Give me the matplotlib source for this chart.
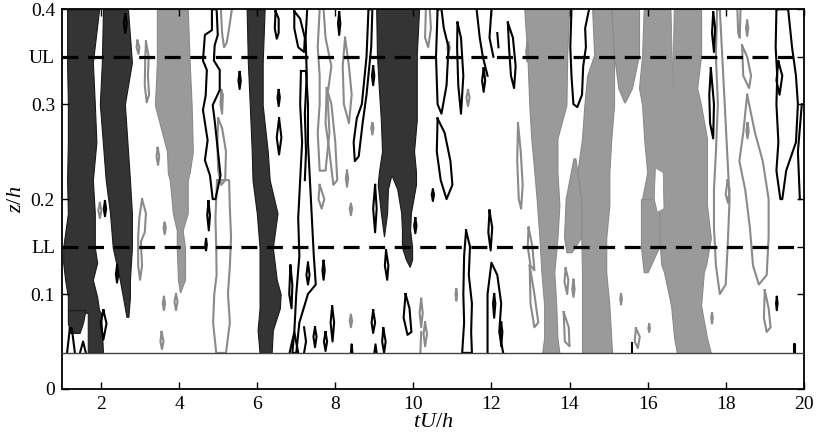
import numpy as np
import matplotlib
matplotlib.use("Agg")
import matplotlib.pyplot as plt
from matplotlib.patches import Rectangle

plt.rcParams['font.family'] = ['Liberation Serif', 'DejaVu Serif']
plt.rcParams['mathtext.fontset'] = 'custom'
plt.rcParams['mathtext.rm'] = 'Liberation Serif'
plt.rcParams['mathtext.it'] = 'Liberation Serif:italic'

# ---- levels / ticks ----
ground = 0.038
z_UL = 0.35
z_LL = 0.15
ytick_vals = [0, 0.1, 0.15, 0.2, 0.3, 0.35, 0.4]
ytick_labels = ['0', '0.1', 'LL', '0.2', '0.3', 'UL', '0.4']
xtick_vals = [2, 4, 6, 8, 10, 12, 14, 16, 18, 20]

# ---- dark (strong negative) regions: z levels, left / right edges in tU/h ----
dark1_z = [0.038, 0.08, 0.083, 0.097, 0.115, 0.133, 0.149, 0.185, 0.22, 0.26, 0.3, 0.344, 0.4]
dark1_left = [1.66, 1.66, 1.15, 1.15, 1.08, 1.03, 1.03, 1.15, 1.13, 1.15, 1.15, 1.13, 1.13]
dark1_right = [2.05, 2.0, 1.95, 1.9, 1.79, 1.9, 1.84, 1.84, 1.79, 1.88, 1.84, 1.79, 1.95]
dark1b_z = [0.059, 0.07, 0.083]
dark1b_left = [1.2, 1.15, 1.15]
dark1b_right = [1.45, 1.54, 1.6]
dark2_z = [0.076, 0.097, 0.115, 0.149, 0.185, 0.22, 0.3, 0.344, 0.4]
dark2_left = [2.65, 2.56, 2.48, 2.3, 2.23, 2.12, 1.97, 2.02, 2.05]
dark2_right = [2.7, 2.74, 2.74, 2.79, 2.79, 2.74, 2.61, 2.79, 2.69]
dark3_z = [0.038, 0.062, 0.085, 0.1, 0.115, 0.149, 0.185, 0.22, 0.25, 0.299, 0.344, 0.4]
dark3_left = [6.06, 6.01, 6.06, 6.06, 6.06, 6.06, 5.99, 5.88, 5.86, 5.81, 5.76, 5.73]
dark3_right = [6.37, 6.4, 6.58, 6.6, 6.5, 6.4, 6.52, 6.32, 6.27, 6.14, 6.14, 6.19]
# structure near tU/h = 9.5, traced as one outline (splits into two tongues)
dark4_x = [9.06, 9.08, 9.13, 9.18, 9.21, 9.13, 9.1, 9.18, 9.26, 9.34, 9.36, 9.45, 9.6, 9.7,
           9.72, 9.72, 9.82, 9.92, 9.98, 9.98, 9.93, 9.95, 10.08, 10.08, 10.03, 10.1, 10.1,
           10.1, 10.16]
dark4_zs = [0.4, 0.352, 0.315, 0.283, 0.25, 0.228, 0.215, 0.185, 0.16, 0.185, 0.21, 0.225,
            0.21, 0.185, 0.167, 0.149, 0.136, 0.128, 0.136, 0.149, 0.167, 0.185, 0.215, 0.228,
            0.25, 0.283, 0.315, 0.352, 0.4]

# ---- light (strong positive) regions ----
light1_z = [0.102, 0.115, 0.149, 0.167, 0.185, 0.22, 0.228, 0.25, 0.299, 0.344, 0.4]
light1_left = [4.02, 3.97, 3.94, 3.94, 3.84, 3.76, 3.71, 3.69, 3.38, 3.43, 3.43]
light1_right = [4.03, 4.15, 4.15, 4.09, 4.22, 4.22, 4.27, 4.35, 4.32, 4.27, 4.22]
lightA_z = [0.038, 0.054, 0.088, 0.123, 0.159, 0.194, 0.228, 0.264, 0.299, 0.352, 0.4]
lightA_left = [13.30, 13.35, 13.35, 13.28, 13.23, 13.17, 13.10, 13.02, 12.97, 12.92, 12.84]
lightA_right = [13.74, 13.69, 13.66, 13.61, 13.69, 13.74, 13.69, 13.69, 13.92, 13.94, 13.99]
lightB_z = [0.038, 0.088, 0.123, 0.159, 0.194, 0.228, 0.264, 0.299, 0.33, 0.352, 0.4]
lightB_left = [14.32, 14.32, 14.32, 14.3, 14.3, 14.2, 14.32, 14.38, 14.45, 14.63, 14.58]
lightB_right = [15.09, 15.02, 14.94, 14.94, 15.02, 15.02, 15.07, 15.14, 15.14, 15.14, 15.07]
lightB2_z = [0.144, 0.16, 0.2, 0.243]
lightB2_left = [13.92, 13.86, 13.9, 14.1]
lightB2_right = [14.05, 14.3, 14.3, 14.15]
lightC_z = [0.302, 0.317, 0.352, 0.4]
lightC_left = [15.4, 15.25, 15.14, 15.07]
lightC_right = [15.42, 15.6, 15.78, 15.78]
lightD_z = [0.038, 0.054, 0.088, 0.123, 0.131, 0.159, 0.194, 0.228, 0.264, 0.299, 0.317, 0.352, 0.4]
lightD_left = [16.75, 16.68, 16.6, 16.42, 16.35, 16.3, 15.83, 15.99, 15.91, 15.86, 15.78, 15.86, 15.9]
lightD_right = [17.62, 17.52, 17.37, 17.44, 17.5, 17.62, 17.52, 17.52, 17.52, 17.37, 17.27, 17.37, 17.37]
lightD2_z = [0.123, 0.15, 0.2]
lightD2_left = [15.9, 15.83, 15.83]
lightD2_right = [16.0, 16.3, 16.3]
# white holes inside the light region
hole1 = [(16.6, 0.4), (16.68, 0.4), (16.65, 0.317)]
hole2 = [(16.2, 0.233), (16.4, 0.228), (16.42, 0.19), (16.25, 0.186), (16.17, 0.2)]

# ---- black contour lines (weak negative), (tU/h, z/h) ----
black_closed = [
    [(2.06, 0.083), (2.14, 0.069), (2.06, 0.052), (1.99, 0.069)],
    [(2.41, 0.13), (2.44, 0.121), (2.41, 0.112), (2.38, 0.121)],
    [(2.1, 0.198), (2.13, 0.19), (2.1, 0.182), (2.07, 0.19)],
    [(2.62, 0.395), (2.66, 0.385), (2.62, 0.375), (2.58, 0.385)],
    [(4.84, 0.40), (4.84, 0.378), (4.66, 0.373), (4.61, 0.346), (4.71, 0.336), (4.68, 0.309),
     (4.61, 0.294), (4.73, 0.262), (4.66, 0.241), (4.79, 0.225), (4.86, 0.2), (4.93, 0.2),
     (5.06, 0.225), (4.99, 0.252), (4.91, 0.283), (4.86, 0.299), (5.04, 0.315), (5.04, 0.336),
     (4.89, 0.346), (4.91, 0.362), (4.99, 0.373), (4.96, 0.40)],
    [(4.75, 0.198), (4.79, 0.183), (4.76, 0.167), (4.72, 0.183)],
    [(4.69, 0.158), (4.71, 0.152), (4.69, 0.146), (4.67, 0.152)],
    [(5.55, 0.334), (5.58, 0.325), (5.55, 0.316), (5.52, 0.325)],
    [(6.47, 0.398), (6.55, 0.39), (6.55, 0.375), (6.5, 0.369), (6.45, 0.38)],
    [(6.55, 0.315), (6.58, 0.307), (6.55, 0.298), (6.52, 0.307)],
    [(6.56, 0.285), (6.62, 0.265), (6.56, 0.247), (6.5, 0.265)],
    [(6.95, 0.398), (7.1, 0.39), (7.22, 0.37), (7.2, 0.355), (7.05, 0.36), (6.95, 0.38)],
    [(7.12, 0.335), (7.1, 0.3), (7.15, 0.26), (7.1, 0.22), (7.05, 0.18), (7.08, 0.14), (7.0, 0.1),
     (6.95, 0.06), (6.9, 0.038), (7.0, 0.038), (7.08, 0.07), (7.3, 0.1), (7.5, 0.11), (7.45, 0.14),
     (7.4, 0.18), (7.35, 0.22), (7.3, 0.26), (7.3, 0.3), (7.25, 0.335)],
    [(6.85, 0.13), (6.9, 0.11), (6.88, 0.085), (6.82, 0.1)],
    [(7.48, 0.065), (7.52, 0.055), (7.48, 0.044), (7.44, 0.055)],
    [(7.75, 0.06), (7.79, 0.05), (7.75, 0.04), (7.71, 0.05)],
    [(7.92, 0.087), (7.97, 0.07), (7.93, 0.05), (7.88, 0.07)],
    [(7.3, 0.133), (7.34, 0.12), (7.3, 0.11), (7.26, 0.12)],
    [(7.7, 0.135), (7.73, 0.125), (7.7, 0.115), (7.67, 0.125)],
    [(8.85, 0.4), (8.8, 0.35), (8.68, 0.3), (8.55, 0.285), (8.47, 0.26), (8.5, 0.24), (8.6, 0.245),
     (8.7, 0.28), (8.8, 0.31), (8.92, 0.36), (8.95, 0.4)],
    [(8.97, 0.34), (9.0, 0.33), (8.97, 0.32), (8.94, 0.33)],
    [(8.1, 0.397), (8.13, 0.385), (8.1, 0.373), (8.07, 0.385)],
    [(9.02, 0.215), (8.97, 0.19), (9.02, 0.165), (9.06, 0.19)],
    [(9.3, 0.146), (9.36, 0.13), (9.33, 0.115), (9.27, 0.13)],
    [(9.8, 0.1), (9.9, 0.085), (9.95, 0.06), (9.85, 0.057), (9.75, 0.075)],
    [(9.23, 0.064), (9.29, 0.05), (9.25, 0.038), (9.2, 0.05)],
    [(8.97, 0.083), (9.02, 0.07), (8.97, 0.059), (8.93, 0.07)],
    [(10.62, 0.4), (10.58, 0.35), (10.62, 0.3), (10.72, 0.29), (10.85, 0.32), (10.9, 0.36),
     (10.78, 0.38), (10.72, 0.4)],
    [(11.13, 0.386), (11.22, 0.37), (11.28, 0.33), (11.22, 0.29), (11.15, 0.32), (11.12, 0.36)],
    [(10.62, 0.285), (10.8, 0.27), (10.95, 0.24), (11.0, 0.215), (10.85, 0.2), (10.7, 0.22), (10.6, 0.25)],
    [(10.5, 0.21), (10.53, 0.205), (10.5, 0.198), (10.47, 0.205)],
    [(10.05, 0.18), (10.08, 0.172), (10.05, 0.164), (10.02, 0.172)],
    [(11.35, 0.167), (11.45, 0.15), (11.42, 0.12), (11.5, 0.09), (11.48, 0.06), (11.5, 0.038),
     (11.25, 0.038), (11.3, 0.07), (11.28, 0.1), (11.3, 0.14)],
    [(12.07, 0.1), (12.1, 0.09), (12.07, 0.075), (12.04, 0.09)],
    [(12.25, 0.07), (12.28, 0.06), (12.25, 0.045), (12.22, 0.06)],
    [(11.95, 0.188), (12.02, 0.17), (11.98, 0.146), (11.92, 0.165)],
    [(11.8, 0.338), (11.84, 0.325), (11.8, 0.313), (11.76, 0.325)],
    [(12.42, 0.386), (12.55, 0.37), (12.62, 0.34), (12.58, 0.317), (12.5, 0.33), (12.45, 0.36)],
    [(17.62, 0.338), (17.7, 0.3), (17.68, 0.264), (17.6, 0.28), (17.58, 0.31)],
    [(17.68, 0.397), (17.73, 0.38), (17.7, 0.355), (17.65, 0.375)],
    [(19.3, 0.40), (19.28, 0.36), (19.32, 0.33), (19.3, 0.30), (19.35, 0.26), (19.3, 0.23), (19.4, 0.2),
     (19.45, 0.2), (19.55, 0.23), (19.8, 0.26), (19.85, 0.30), (19.8, 0.33), (19.7, 0.36), (19.6, 0.40)],
    [(19.35, 0.345), (19.45, 0.33), (19.38, 0.31), (19.3, 0.325)],
    [(19.31, 0.097), (19.33, 0.09), (19.31, 0.083), (19.29, 0.09)],
]
black_open = [
    [(1.13, 0.038), (1.2, 0.064), (1.25, 0.064), (1.33, 0.038)],
    [(1.46, 0.038), (1.54, 0.05), (1.61, 0.038)],
    [(6.83, 0.038), (6.95, 0.06), (7.05, 0.038)],
    [(7.28, 0.40), (7.24, 0.37), (7.27, 0.33), (7.22, 0.29), (7.25, 0.25), (7.22, 0.22)],
    [(7.2, 0.065), (7.25, 0.05), (7.2, 0.038)],
    [(8.4, 0.038), (8.42, 0.047), (8.44, 0.038)],
    [(9.0, 0.038), (9.03, 0.047), (9.06, 0.038)],
    [(11.9, 0.038), (11.9, 0.1), (12.0, 0.133), (12.15, 0.12), (12.25, 0.09), (12.2, 0.06), (12.3, 0.038)],
    [(11.62, 0.4), (11.7, 0.37), (11.78, 0.35), (11.9, 0.33)],
    [(12.0, 0.4), (11.95, 0.37), (12.05, 0.35)],
    [(12.15, 0.375), (12.18, 0.36)],
    [(14.05, 0.40), (14.02, 0.36), (14.05, 0.33), (14.1, 0.30), (14.2, 0.297), (14.32, 0.31),
     (14.35, 0.34), (14.42, 0.36), (14.4, 0.38), (14.5, 0.40)],
    [(19.95, 0.3), (19.85, 0.25), (19.9, 0.2)],
    [(19.74, 0.038), (19.74, 0.047), (19.77, 0.047), (19.77, 0.038)],
    [(15.6, 0.038), (15.6, 0.048)],
]

# ---- grey contour lines (weak positive) ----
grey_closed = [
    [(2.93, 0.367), (2.98, 0.36), (2.96, 0.353), (2.91, 0.36)],
    [(3.15, 0.366), (3.22, 0.35), (3.2, 0.33), (3.23, 0.31), (3.17, 0.302), (3.12, 0.32), (3.13, 0.345)],
    [(3.05, 0.2), (3.15, 0.185), (3.12, 0.165), (3.02, 0.155), (3.05, 0.13), (3.0, 0.115),
     (2.95, 0.13), (2.95, 0.16), (2.98, 0.18)],
    [(3.45, 0.254), (3.49, 0.245), (3.46, 0.236), (3.42, 0.245)],
    [(3.63, 0.175), (3.66, 0.17), (3.63, 0.163), (3.6, 0.17)],
    [(3.92, 0.1), (3.96, 0.092), (3.92, 0.083), (3.88, 0.092)],
    [(3.61, 0.097), (3.64, 0.09), (3.61, 0.083), (3.58, 0.09)],
    [(3.55, 0.06), (3.6, 0.05), (3.56, 0.042), (3.52, 0.05)],
    [(1.97, 0.196), (2.01, 0.188), (1.97, 0.18), (1.93, 0.188)],
    [(5.08, 0.315), (5.12, 0.31), (5.1, 0.29), (5.06, 0.3)],
    [(5.0, 0.285), (5.1, 0.275), (5.2, 0.25), (5.18, 0.22), (5.08, 0.215), (5.0, 0.23), (4.98, 0.26)],
    [(4.97, 0.22), (4.93, 0.18), (4.95, 0.15), (4.96, 0.12), (4.9, 0.1), (4.87, 0.07), (4.95, 0.038),
     (5.2, 0.038), (5.3, 0.07), (5.25, 0.1), (5.3, 0.13), (5.33, 0.16), (5.3, 0.19), (5.28, 0.22)],
    [(7.78, 0.317), (7.9, 0.3), (8.0, 0.26), (8.05, 0.22), (7.95, 0.215), (7.85, 0.25), (7.75, 0.28)],
    [(7.6, 0.215), (7.72, 0.2), (7.65, 0.19), (7.57, 0.2)],
    [(8.25, 0.37), (8.35, 0.34), (8.42, 0.31), (8.35, 0.28), (8.22, 0.3), (8.19, 0.34)],
    [(8.3, 0.23), (8.33, 0.222), (8.3, 0.213), (8.27, 0.222)],
    [(8.95, 0.28), (8.98, 0.275), (8.95, 0.268), (8.92, 0.275)],
    [(8.4, 0.195), (8.43, 0.19), (8.4, 0.183), (8.37, 0.19)],
    [(8.4, 0.078), (8.43, 0.072), (8.4, 0.065), (8.37, 0.072)],
    [(10.9, 0.365), (10.93, 0.36), (10.9, 0.352), (10.87, 0.36)],
    [(11.4, 0.315), (11.44, 0.307), (11.4, 0.298), (11.36, 0.307)],
    [(10.2, 0.095), (10.24, 0.08), (10.2, 0.065), (10.16, 0.08)],
    [(10.3, 0.07), (10.35, 0.058), (10.3, 0.045), (10.26, 0.058)],
    [(11.1, 0.105), (11.12, 0.1), (11.1, 0.093), (11.08, 0.1)],
    [(12.68, 0.28), (12.75, 0.25), (12.8, 0.215), (12.76, 0.19), (12.7, 0.2), (12.66, 0.24)],
    [(12.95, 0.17), (13.05, 0.15), (13.1, 0.125), (13.0, 0.13), (12.93, 0.15)],
    [(12.98, 0.13), (13.1, 0.1), (13.2, 0.07), (13.1, 0.065), (13.0, 0.09)],
    [(12.92, 0.365), (12.95, 0.355), (12.92, 0.345), (12.89, 0.355)],
    [(13.9, 0.127), (13.97, 0.115), (13.94, 0.1), (13.87, 0.113)],
    [(13.85, 0.081), (13.98, 0.065), (14.0, 0.045), (13.88, 0.05)],
    [(14.1, 0.115), (14.13, 0.105), (14.1, 0.097), (14.07, 0.105)],
    [(15.7, 0.064), (15.8, 0.055), (15.75, 0.043), (15.67, 0.05)],
    [(15.32, 0.1), (15.34, 0.095), (15.32, 0.089), (15.3, 0.095)],
    [(17.85, 0.40), (17.9, 0.36), (17.95, 0.32), (18.0, 0.28), (18.05, 0.24), (18.1, 0.2),
     (18.05, 0.15), (18.0, 0.11), (17.85, 0.1), (17.75, 0.13), (17.7, 0.17), (17.7, 0.21),
     (17.75, 0.25), (17.8, 0.3), (17.75, 0.35), (17.78, 0.40)],
    [(18.05, 0.22), (18.1, 0.21), (18.06, 0.196), (18.0, 0.205)],
    [(18.55, 0.31), (18.45, 0.27), (18.35, 0.24), (18.5, 0.21), (18.62, 0.17), (18.7, 0.13),
     (18.85, 0.11), (19.05, 0.12), (19.1, 0.16), (19.1, 0.2), (18.95, 0.24), (18.75, 0.27)],
    [(19.0, 0.104), (19.1, 0.085), (19.15, 0.065), (19.05, 0.06), (18.98, 0.075)],
    [(18.42, 0.362), (18.55, 0.35), (18.65, 0.33), (18.6, 0.317), (18.45, 0.33)],
    [(18.56, 0.28), (18.59, 0.272), (18.56, 0.264), (18.53, 0.272)],
    [(18.55, 0.388), (18.58, 0.38), (18.55, 0.372), (18.52, 0.38)],
    [(17.65, 0.08), (17.67, 0.075), (17.65, 0.069), (17.63, 0.075)],
    [(16.04, 0.068), (16.06, 0.064), (16.04, 0.06), (16.02, 0.064)],
]
grey_open = [
    [(5.07, 0.40), (5.1, 0.375), (5.15, 0.36), (5.22, 0.365), (5.28, 0.38), (5.35, 0.40)],
    [(7.6, 0.40), (7.55, 0.36), (7.6, 0.33), (7.6, 0.30), (7.55, 0.27), (7.6, 0.23), (7.75, 0.23),
     (7.85, 0.27), (7.8, 0.31), (7.9, 0.34), (7.75, 0.37), (7.7, 0.40)],
    [(10.32, 0.4), (10.3, 0.37), (10.38, 0.36), (10.45, 0.38), (10.42, 0.4)],
    [(10.18, 0.038), (10.2, 0.06)],
    [(18.3, 0.4), (18.32, 0.375), (18.36, 0.37), (18.38, 0.4)],
]

dark_color = '#343434'
light_color = '#9a9a9a'
grey_line = '#8a8a8a'

fig, ax = plt.subplots(figsize=(8.16, 4.43), dpi=100)
fig.subplots_adjust(left=0.076, right=0.985, bottom=0.122, top=0.979)

clip = Rectangle((1, ground), 19, 0.4 - ground, transform=ax.transData)

dark_regions = [(dark1_z, dark1_left, dark1_right), (dark1b_z, dark1b_left, dark1b_right),
                (dark2_z, dark2_left, dark2_right), (dark3_z, dark3_left, dark3_right)]
light_regions = [(light1_z, light1_left, light1_right), (lightA_z, lightA_left, lightA_right),
                 (lightB_z, lightB_left, lightB_right), (lightB2_z, lightB2_left, lightB2_right),
                 (lightC_z, lightC_left, lightC_right), (lightD_z, lightD_left, lightD_right),
                 (lightD2_z, lightD2_left, lightD2_right)]

for zz, lft, rgt in light_regions:
    ax.fill_betweenx(zz, lft, rgt, facecolor=light_color, edgecolor=grey_line, lw=0.8, zorder=1)
for hole in (hole1, hole2):
    hx, hz = zip(*hole)
    ax.fill(hx, hz, facecolor='white', edgecolor=grey_line, lw=0.6, zorder=1.5)
for zz, lft, rgt in dark_regions:
    ax.fill_betweenx(zz, lft, rgt, facecolor=dark_color, edgecolor='#1a1a1a', lw=0.8, zorder=1)
ax.fill(dark4_x, dark4_zs, facecolor=dark_color, edgecolor='#1a1a1a', lw=0.8, zorder=1)


def draw_lines(loops, color, closed):
    for lp in loops:
        pts = list(lp) + ([lp[0]] if closed else [])
        xs, zs = zip(*pts)
        ln, = ax.plot(xs, zs, color=color, lw=1.5, zorder=2, solid_joinstyle='round')
        ln.set_clip_path(clip)


draw_lines(grey_closed, grey_line, True)
draw_lines(grey_open, grey_line, False)
draw_lines(black_closed, 'black', True)
draw_lines(black_open, 'black', False)

# reference heights
ax.axhline(z_UL, color='black', lw=2.3, ls=(0, (5, 3)), zorder=4)
ax.axhline(z_LL, color='black', lw=2.3, ls=(0, (5, 3)), zorder=4)
ax.axhline(ground, color='#444444', lw=1.0, zorder=4)

ax.set_xlim(1, 20)
ax.set_ylim(0, 0.4)
ax.set_xticks(xtick_vals)
ax.set_yticks(ytick_vals)
ax.set_yticklabels(ytick_labels)
ax.tick_params(direction='in', length=5, width=1, top=True, right=True, labelsize=14, pad=5)
for sp in ax.spines.values():
    sp.set_linewidth(1.3)
ax.set_xlabel('$tU/h$', fontsize=16, labelpad=0)
ax.set_ylabel('$z/h$', fontsize=16, labelpad=2)

fig.savefig('out.png', dpi=100)
